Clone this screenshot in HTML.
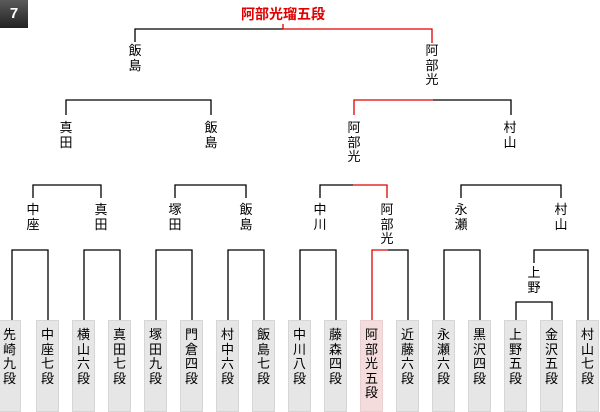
<!DOCTYPE html>
<html><head><meta charset="utf-8"><style>
body{margin:0;width:600px;height:410px;background:#fff;position:relative;overflow:hidden;font-family:"Liberation Sans","Noto Sans CJK JP",sans-serif;}
.l{position:absolute;width:20px;margin-left:-10px;text-align:center;font-size:13px;line-height:14.5px;color:#000;}
.b{position:absolute;top:320px;width:23px;height:92px;background:#e6e6e6;border:1px solid #d6d6d6;box-sizing:border-box;text-align:center;font-size:13px;line-height:14.5px;padding-top:7px;}
.r{background:#f4dcdc;border-color:#ead0d0;}
svg{position:absolute;left:0;top:0;}
</style></head><body>
<div style="position:absolute;left:0;top:0;width:28px;height:28px;background:linear-gradient(#5a5a5a,#222);color:#fff;font-weight:bold;font-size:15px;line-height:28px;text-align:center;">7</div>
<div style="position:absolute;left:233px;top:5px;width:100px;text-align:center;color:#e00000;font-weight:bold;font-size:14px;line-height:18px;">阿部光瑠五段</div>
<svg width="600" height="410" fill="none" stroke-width="1.3">
<g stroke="#000">
<path d="M135,42V29H283"/>
<path d="M66,115V100H211V115"/>
<path d="M433,100H511V115"/>
<path d="M33,198V185H101V198"/>
<path d="M175,198V185H246V198"/>
<path d="M320,198V185H353"/>
<path d="M461,198V185H561V198"/>
<path d="M12,320V250H48V320"/>
<path d="M84,320V250H120V320"/>
<path d="M156,320V250H192V320"/>
<path d="M228,320V250H264V320"/>
<path d="M300,320V250H336V320"/>
<path d="M388,250H408V320"/>
<path d="M444,320V250H480V320"/>
<path d="M534,263V250H588V320"/>
<path d="M516,320V302H552V320"/>
</g>
<g stroke="#e00000">
<path d="M283,24V29H432V43"/>
<path d="M354,115V100H433"/>
<path d="M353,185H387V198"/>
<path d="M372,320V250H388"/>
</g>
</svg>
<div class="l" style="left:135px;top:44px">飯<br>島</div>
<div class="l" style="left:432px;top:44px">阿<br>部<br>光</div>
<div class="l" style="left:66px;top:121px">真<br>田</div>
<div class="l" style="left:211px;top:121px">飯<br>島</div>
<div class="l" style="left:354px;top:121px">阿<br>部<br>光</div>
<div class="l" style="left:510px;top:121px">村<br>山</div>
<div class="l" style="left:33px;top:203px">中<br>座</div>
<div class="l" style="left:101px;top:203px">真<br>田</div>
<div class="l" style="left:175px;top:203px">塚<br>田</div>
<div class="l" style="left:246px;top:203px">飯<br>島</div>
<div class="l" style="left:320px;top:203px">中<br>川</div>
<div class="l" style="left:387px;top:203px">阿<br>部<br>光</div>
<div class="l" style="left:461px;top:203px">永<br>瀬</div>
<div class="l" style="left:561px;top:203px">村<br>山</div>
<div class="l" style="left:534px;top:266px">上<br>野</div>
<div class="b" style="left:-2px;width:23px">先<br>崎<br>九<br>段</div>
<div class="b" style="left:36px">中<br>座<br>七<br>段</div>
<div class="b" style="left:72px">横<br>山<br>六<br>段</div>
<div class="b" style="left:108px">真<br>田<br>七<br>段</div>
<div class="b" style="left:144px">塚<br>田<br>九<br>段</div>
<div class="b" style="left:180px">門<br>倉<br>四<br>段</div>
<div class="b" style="left:216px">村<br>中<br>六<br>段</div>
<div class="b" style="left:252px">飯<br>島<br>七<br>段</div>
<div class="b" style="left:288px">中<br>川<br>八<br>段</div>
<div class="b" style="left:324px">藤<br>森<br>四<br>段</div>
<div class="b r" style="left:360px">阿<br>部<br>光<br>五<br>段</div>
<div class="b" style="left:396px">近<br>藤<br>六<br>段</div>
<div class="b" style="left:432px">永<br>瀬<br>六<br>段</div>
<div class="b" style="left:468px">黒<br>沢<br>四<br>段</div>
<div class="b" style="left:504px">上<br>野<br>五<br>段</div>
<div class="b" style="left:540px">金<br>沢<br>五<br>段</div>
<div class="b" style="left:576px">村<br>山<br>七<br>段</div>
</body></html>
